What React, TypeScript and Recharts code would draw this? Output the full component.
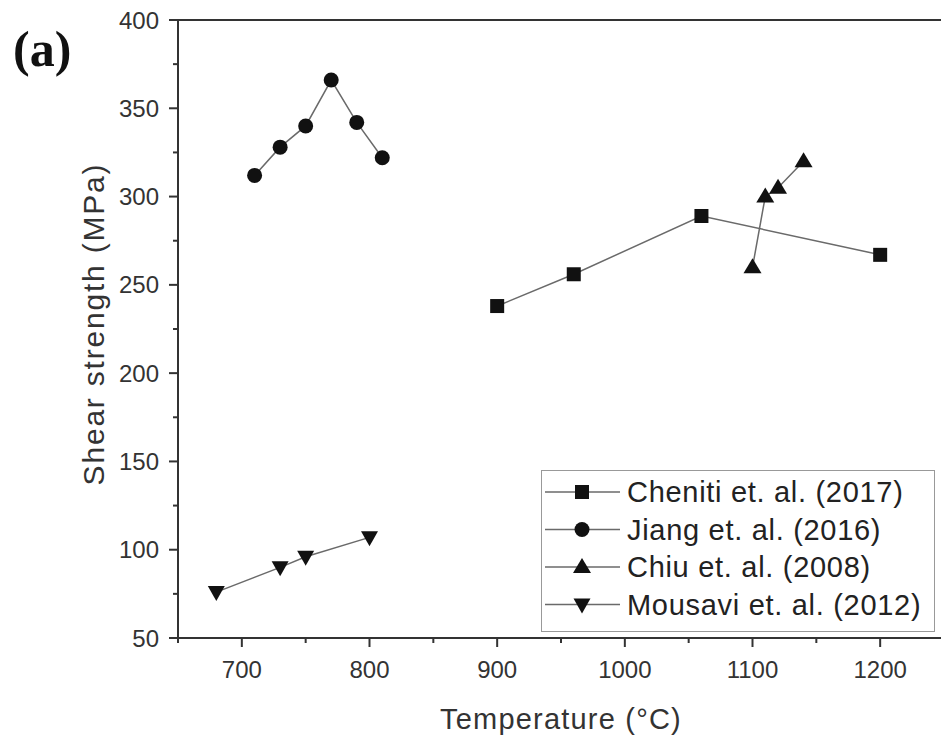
import { ScatterChart, Scatter, XAxis, YAxis, Legend, ReferenceLine } from 'recharts';

// shear strength vs bonding temperature, four literature sources
const chenitiTemp = [900, 960, 1060, 1200];
const chenitiShear = [238, 256, 289, 267];
const jiangTemp = [710, 730, 750, 770, 790, 810];
const jiangShear = [312, 328, 340, 366, 342, 322];
const chiuTemp = [1100, 1110, 1120, 1140];
const chiuShear = [260, 300, 305, 320];
const mousaviTemp = [680, 730, 750, 800];
const mousaviShear = [76, 90, 96, 107];

const xMajor = [700, 800, 900, 1000, 1100, 1200];
const xMinor = [650, 750, 850, 950, 1050, 1150];
const yMajor = [50, 100, 150, 200, 250, 300, 350, 400];
const yMinor = [75, 125, 175, 225, 275, 325, 375];

const zip = (xs: number[], ys: number[]) => xs.map((x, i) => ({ x, y: ys[i] }));

const AXIS = '#333';
const LINE = '#6a6a6a';
const MARK = '#111';
const FONT = '"Liberation Sans", Arial, sans-serif';
const TICK_SIZE = 9;
const X_MARGIN = 14;
const Y_MARGIN = 10;

type Sym = 'square' | 'circle' | 'up' | 'down';

function marker(kind: Sym, cx: number, cy: number) {
  switch (kind) {
    case 'square':
      return <rect x={cx - 7} y={cy - 7} width={14} height={14} fill={MARK} />;
    case 'circle':
      return <circle cx={cx} cy={cy} r={7.5} fill={MARK} />;
    case 'up':
      return <path d={`M${cx},${cy - 9}L${cx + 9},${cy + 6}L${cx - 9},${cy + 6}Z`} fill={MARK} />;
    default:
      return <path d={`M${cx},${cy + 9}L${cx + 8.5},${cy - 6}L${cx - 8.5},${cy - 6}Z`} fill={MARK} />;
  }
}

const shapeOf = (kind: Sym) => (p: any) => marker(kind, p.cx, p.cy);

const series: { name: string; kind: Sym; data: { x: number; y: number }[] }[] = [
  { name: 'Cheniti et. al. (2017)', kind: 'square', data: zip(chenitiTemp, chenitiShear) },
  { name: 'Jiang et. al. (2016)', kind: 'circle', data: zip(jiangTemp, jiangShear) },
  { name: 'Chiu et. al. (2008)', kind: 'up', data: zip(chiuTemp, chiuShear) },
  { name: 'Mousavi et. al. (2012)', kind: 'down', data: zip(mousaviTemp, mousaviShear) },
];

const XTick = (props: any) => {
  const { x, y, payload } = props;
  const major = xMajor.includes(payload.value);
  const axisY = y - TICK_SIZE - X_MARGIN;
  return (
    <g>
      <line x1={x} x2={x} y1={axisY} y2={axisY + (major ? TICK_SIZE : 5)} stroke={AXIS} strokeWidth={2} />
      {major && (
        <text x={x} y={y} dy="0.71em" textAnchor="middle" fontSize={24} fontFamily={FONT} fill={AXIS}>
          {payload.value}
        </text>
      )}
    </g>
  );
};

const YTick = (props: any) => {
  const { x, y, payload } = props;
  const major = yMajor.includes(payload.value);
  const axisX = x + TICK_SIZE + Y_MARGIN;
  return (
    <g>
      <line x1={axisX} x2={axisX - (major ? TICK_SIZE : 5)} y1={y} y2={y} stroke={AXIS} strokeWidth={2} />
      {major && (
        <text x={x} y={y} dy="0.355em" textAnchor="end" fontSize={24} fontFamily={FONT} fill={AXIS}>
          {payload.value}
        </text>
      )}
    </g>
  );
};

const LegendBox = () => (
  <svg width={394} height={162} style={{ display: 'block' }}>
    <rect x={0.5} y={0.5} width={393} height={161} fill="#fff" stroke="#999" strokeWidth={1} />
    {series.map((s, i) => {
      const cy = 22 + i * 37.5;
      return (
        <g key={s.name}>
          <line x1={4} x2={79} y1={cy} y2={cy} stroke={LINE} strokeWidth={1.5} />
          {marker(s.kind, 41, cy)}
          <text x={86} y={cy} dy="0.36em" fontSize={29} letterSpacing={0.7} fontFamily={FONT} fill="#222">
            {s.name}
          </text>
        </g>
      );
    })}
  </svg>
);

export default function App() {
  return (
    <div style={{ position: 'absolute', left: 0, top: 0, width: 941, height: 743, overflow: 'hidden', background: '#fff' }}>
      <svg width={120} height={90} style={{ position: 'absolute', left: 0, top: 0 }}>
        <text x={13} y={66} fontSize={50} fontWeight="bold" fontFamily='"Liberation Serif", "Times New Roman", serif' fill="#111">
          (a)
        </text>
      </svg>
      <ScatterChart width={950} height={743} margin={{ top: 20, right: 6, bottom: 0, left: 0 }}>
        <XAxis
          type="number"
          dataKey="x"
          domain={[650, 1250]}
          ticks={[...xMinor, ...xMajor].sort((a, b) => a - b)}
          interval={0}
          height={105}
          tickSize={TICK_SIZE}
          tickMargin={X_MARGIN}
          tickLine={false}
          tick={XTick}
          axisLine={{ stroke: AXIS, strokeWidth: 2 }}
          label={{
            content: ({ viewBox }: any) => (
              <text
                x={viewBox.x + viewBox.width / 2}
                y={viewBox.y + 91}
                textAnchor="middle"
                fontSize={29}
                letterSpacing={1.2}
                fontFamily={FONT}
                fill={AXIS}
              >
                Temperature (°C)
              </text>
            ),
          }}
        />
        <YAxis
          type="number"
          dataKey="y"
          domain={[50, 400]}
          ticks={[...yMinor, ...yMajor].sort((a, b) => a - b)}
          interval={0}
          width={178}
          tickSize={TICK_SIZE}
          tickMargin={Y_MARGIN}
          tickLine={false}
          tick={YTick}
          axisLine={{ stroke: AXIS, strokeWidth: 2 }}
          label={{
            content: ({ viewBox }: any) => {
              const cx = viewBox.x + 93;
              const cy = viewBox.y + viewBox.height / 2 - 5;
              return (
                <text
                  x={cx}
                  y={cy}
                  dy="0.35em"
                  textAnchor="middle"
                  transform={`rotate(-90, ${cx}, ${cy})`}
                  fontSize={30}
                  letterSpacing={1.8}
                  fontFamily={FONT}
                  fill={AXIS}
                >
                  Shear strength (MPa)
                </text>
              );
            },
          }}
        />
        <ReferenceLine y={400} stroke={AXIS} strokeWidth={2} />
        <ReferenceLine x={1250} stroke={AXIS} strokeWidth={2} />
        {series.map((s) => (
          <Scatter
            key={s.name}
            name={s.name}
            data={s.data}
            line={{ stroke: LINE, strokeWidth: 1.5 }}
            shape={shapeOf(s.kind)}
            isAnimationActive={false}
          />
        ))}
        <Legend
          layout="horizontal"
          verticalAlign="middle"
          align="center"
          content={() => <LegendBox />}
          wrapperStyle={{ position: 'absolute', left: 541, top: 470, width: 394, height: 162 }}
        />
      </ScatterChart>
    </div>
  );
}
